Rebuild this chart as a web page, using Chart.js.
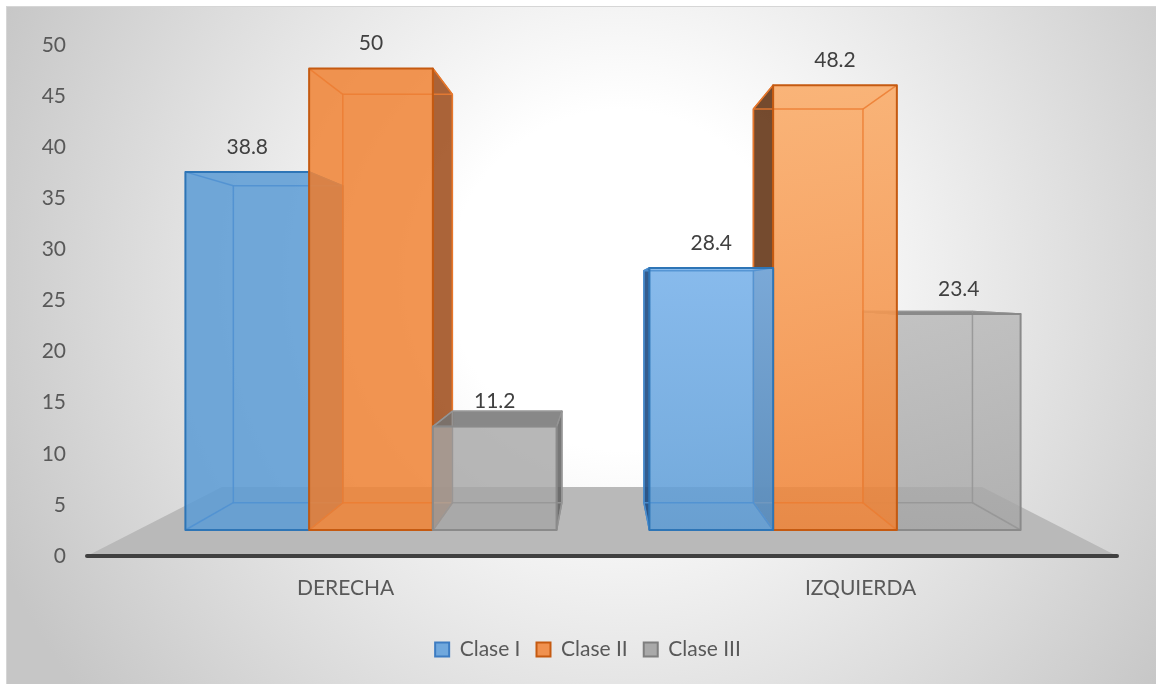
<!DOCTYPE html>
<html>
<head>
<meta charset="utf-8">
<script src="https://cdn.jsdelivr.net/npm/chart.js@4.4.0/dist/chart.umd.min.js"></script>
<style>
  html, body { margin: 0; padding: 0; background: #fff; }
  #wrap { width: 1156px; height: 684px; }
</style>
</head>
<body>
<div id="wrap"><canvas id="chart" width="1156" height="684"></canvas></div>
<script>
// values
const categories = ['DERECHA', 'IZQUIERDA'];
const seriesNames = ['Clase I', 'Clase II', 'Clase III'];
const claseI = [38.8, 28.4];
const claseII = [50, 48.2];
const claseIII = [11.2, 23.4];
const axisMin = 0;
const axisMax = 50;
const axisStep = 5;

// look of each series box
const styles = [
  { fill: 'rgba(91,155,213,0.85)', light: 'rgba(123,179,234,0.9)', sideR: 'rgba(60,110,170,0.85)', sideL: 'rgba(30,75,130,0.9)', top: 'rgba(60,110,170,0.8)', edge: '#2e75b6', inner: 'rgba(80,145,210,0.9)' },
  { fill: 'rgba(240,130,52,0.85)', light: 'rgba(250,173,107,0.9)', sideR: 'rgba(156,73,22,0.85)', sideL: 'rgba(93,43,10,0.85)', top: 'rgba(156,73,22,0.8)', edge: '#c55a11', inner: 'rgba(236,125,49,0.85)' },
  { fill: 'rgba(165,165,165,0.8)', light: 'rgba(182,182,182,0.8)', sideR: 'rgba(95,95,95,0.85)', sideL: 'rgba(90,90,90,0.25)', top: 'rgba(115,115,115,0.85)', edge: '#8a8a8a', inner: 'rgba(150,150,150,0.9)' }
];
const shadedCategory = [false, true];

const FONT = 'Lato, "Open Sans", sans-serif';
const VP = { x: 602, y: 293 };   // vanishing point of the 3D view
const DEPTH = 0.885;              // back face scale toward VP
const FLOOR_DEPTH = 0.738;
const FLOOR_LEFT = 87, FLOOR_RIGHT = 1117;

function toBack(x, y, f) {
  f = f || DEPTH;
  return [VP.x + f * (x - VP.x), VP.y + f * (y - VP.y)];
}

function poly(ctx, pts) {
  ctx.beginPath();
  ctx.moveTo(pts[0][0], pts[0][1]);
  for (let i = 1; i < pts.length; i++) ctx.lineTo(pts[i][0], pts[i][1]);
  ctx.closePath();
}

function line(ctx, a, b) {
  ctx.beginPath();
  ctx.moveTo(a[0], a[1]);
  ctx.lineTo(b[0], b[1]);
  ctx.stroke();
}

function drawBox(ctx, el, st, shaded) {
  const x1 = el.x - el.width / 2, x2 = el.x + el.width / 2;
  const yt = el.y, yb = el.base;
  const bl = toBack(x1, yt), br = toBack(x2, yt);
  const bbl = toBack(x1, yb), bbr = toBack(x2, yb);

  ctx.save();
  ctx.lineJoin = 'round';
  // side and top faces
  if (x2 < VP.x) {
    poly(ctx, [[x2, yt], br, bbr, [x2, yb]]);
    ctx.fillStyle = st.sideR; ctx.fill();
    ctx.strokeStyle = st.edge; ctx.lineWidth = 1.5; ctx.stroke();
  }
  if (x1 > VP.x) {
    poly(ctx, [[x1, yt], bl, bbl, [x1, yb]]);
    ctx.fillStyle = st.sideL; ctx.fill();
    ctx.strokeStyle = st.edge; ctx.lineWidth = 1.5; ctx.stroke();
  }
  if (yt > VP.y) {
    poly(ctx, [[x1, yt], [x2, yt], br, bl]);
    ctx.fillStyle = st.top; ctx.fill();
    ctx.strokeStyle = st.edge; ctx.lineWidth = 1.5; ctx.stroke();
  }

  // front face
  let fill = st.fill;
  if (shaded) {
    const g = ctx.createLinearGradient(0, yt, 0, yb);
    g.addColorStop(0, st.light);
    g.addColorStop(1, st.fill);
    fill = g;
  }
  ctx.fillStyle = fill;
  ctx.fillRect(x1, yt, x2 - x1, yb - yt);

  // edges seen through the box
  ctx.strokeStyle = st.inner;
  ctx.lineWidth = 1.5;
  ctx.strokeRect(bl[0], bl[1], br[0] - bl[0], bbl[1] - bl[1]);
  line(ctx, [x1, yt], bl);
  line(ctx, [x2, yt], br);
  line(ctx, [x1, yb], bbl);
  line(ctx, [x2, yb], bbr);

  ctx.strokeStyle = st.edge;
  ctx.lineWidth = 2;
  ctx.strokeRect(x1, yt, x2 - x1, yb - yt);
  ctx.restore();
}

const boxes3d = {
  id: 'boxes3d',
  beforeDraw(chart) {
    const ctx = chart.ctx;
    ctx.save();
    ctx.fillStyle = '#ffffff';
    ctx.fillRect(0, 0, chart.width, chart.height);
    const g = ctx.createRadialGradient(620, 280, 0, 620, 280, 680);
    g.addColorStop(0, '#ffffff');
    g.addColorStop(0.25, '#ffffff');
    g.addColorStop(1, '#c6c6c6');
    ctx.fillStyle = g;
    ctx.fillRect(6, 6, chart.width - 6, chart.height - 6);
    ctx.strokeStyle = '#d6d6d6';
    ctx.lineWidth = 1;
    ctx.strokeRect(6.5, 6.5, chart.width, chart.height);
    ctx.restore();
  },
  beforeDatasetsDraw(chart) {
    const ctx = chart.ctx;
    const area = chart.chartArea;
    const yFront = area.bottom;

    // floor
    ctx.save();
    const fl = toBack(FLOOR_LEFT, yFront, FLOOR_DEPTH);
    const fr = toBack(FLOOR_RIGHT, yFront, FLOOR_DEPTH);
    poly(ctx, [[FLOOR_LEFT, yFront], [FLOOR_RIGHT, yFront], fr, fl]);
    ctx.fillStyle = '#b9b9b9';
    ctx.fill();
    ctx.strokeStyle = '#404040';
    ctx.lineWidth = 4;
    ctx.lineCap = 'round';
    line(ctx, [FLOOR_LEFT, yFront], [FLOOR_RIGHT, yFront]);
    ctx.restore();

    // boxes, far ones first
    const n = chart.data.datasets.length;
    categories.forEach((cat, i) => {
      const items = [];
      for (let j = 0; j < n; j++) items.push({ j, el: chart.getDatasetMeta(j).data[i] });
      items.sort((a, b) => Math.abs(b.el.x - VP.x) - Math.abs(a.el.x - VP.x));
      items.forEach(it => drawBox(ctx, it.el, styles[it.j], shadedCategory[i]));
    });

    // value labels
    ctx.save();
    ctx.font = '21px ' + FONT;
    ctx.fillStyle = '#404040';
    ctx.textAlign = 'center';
    ctx.textBaseline = 'middle';
    for (let j = 0; j < n; j++) {
      const meta = chart.getDatasetMeta(j);
      meta.data.forEach((el, i) => {
        ctx.fillText(String(chart.data.datasets[j].data[i]), el.x, el.y - 25);
      });
    }

    // category labels, placed on the front edge of the floor
    ctx.fillStyle = '#595959';
    const xs = chart.scales.x;
    const yBase = chart.getDatasetMeta(0).data[0].base;
    const spread = (yFront - VP.y) / (yBase - VP.y);
    categories.forEach((cat, i) => {
      const cx = xs.getPixelForTick(i);
      ctx.fillText(cat, VP.x + spread * (cx - VP.x), yFront + 32);
    });
    ctx.restore();
    return false;
  }
};

const datasets = [claseI, claseII, claseIII].map((vals, j) => ({
  label: seriesNames[j],
  data: vals,
  yAxisID: 'yBars',
  backgroundColor: ['#70a8dd', '#f0914f', '#a9a9a9'][j],
  borderColor: ['#3d7cc2', '#c55a11', '#7f7f7f'][j],
  borderWidth: 2,
  categoryPercentage: 0.8,
  barPercentage: 1
}));

new Chart(document.getElementById('chart'), {
  type: 'bar',
  data: { labels: categories, datasets: datasets },
  options: {
    responsive: false,
    animation: false,
    layout: { padding: { top: 45, right: 0, bottom: 14, left: 20 } },
    plugins: {
      legend: {
        position: 'bottom',
        labels: {
          boxWidth: 14,
          boxHeight: 14,
          padding: 16,
          color: '#595959',
          font: { family: FONT, size: 21 }
        }
      },
      tooltip: { enabled: false }
    },
    scales: {
      x: {
        ticks: { display: false },
        grid: { display: false, drawTicks: false },
        border: { display: false },
        afterFit(s) { s.height = 67; }
      },
      y: {
        position: 'left',
        min: axisMin,
        max: axisMax,
        ticks: { stepSize: axisStep, padding: 73, color: '#595959', font: { family: FONT, size: 21 } },
        grid: { display: false, drawTicks: false },
        border: { display: false },
        afterFit(s) {
          s.width = 119;
          s.paddingTop = 0;
          s.paddingBottom = 0;
        }
      },
      // empty margin on the right of the plot
      yRight: {
        position: 'right',
        min: axisMin,
        max: axisMax,
        ticks: { display: false },
        grid: { display: false, drawTicks: false },
        border: { display: false },
        afterFit(s) { s.width = 89; }
      },
      // bar heights in the 3D front plane
      yBars: { display: false, min: -2.82, max: 52.55 }
    }
  },
  plugins: [boxes3d]
});
</script>
</body>
</html>
